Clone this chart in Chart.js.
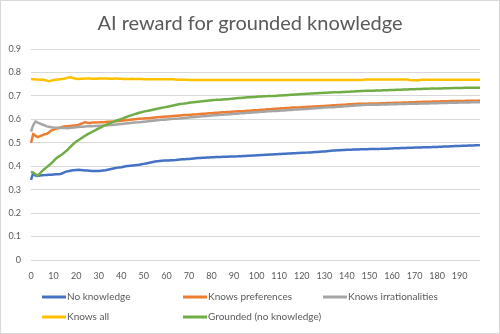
<!DOCTYPE html>
<html>
<head>
<meta charset="utf-8">
<script src="https://cdn.jsdelivr.net/npm/chart.js@4"></script>
<style>
html,body{margin:0;padding:0;background:#fff;}
canvas{display:block;}
</style>
</head>
<body>
<canvas id="c" width="500" height="334"></canvas>
<script>
const titleText = 'AI reward for grounded knowledge';
const categories = Array.from({length: 200}, (_, i) => i);
const seriesNames = ['No knowledge', 'Knows preferences', 'Knows irrationalities', 'Knows all', 'Grounded (no knowledge)'];
const seriesColors = ['#4472C4', '#ED7D31', '#A5A5A5', '#FFC000', '#70AD47'];

const noKnowledge = [
0.342,0.372,0.360,0.358,0.360,0.361,0.362,0.363,0.364,0.364,
0.365,0.366,0.366,0.367,0.370,0.375,0.378,0.380,0.382,0.383,
0.384,0.385,0.384,0.383,0.382,0.382,0.381,0.380,0.380,0.380,
0.380,0.381,0.382,0.383,0.385,0.387,0.389,0.391,0.393,0.395,
0.396,0.398,0.400,0.401,0.402,0.403,0.404,0.405,0.406,0.408,
0.410,0.412,0.414,0.416,0.418,0.420,0.421,0.422,0.423,0.424,
0.424,0.424,0.425,0.425,0.426,0.428,0.429,0.430,0.430,0.431,
0.431,0.432,0.433,0.434,0.435,0.435,0.436,0.436,0.437,0.437,
0.438,0.438,0.439,0.439,0.439,0.440,0.440,0.440,0.441,0.441,
0.442,0.442,0.443,0.443,0.444,0.444,0.445,0.445,0.446,0.446,
0.447,0.447,0.448,0.448,0.449,0.449,0.450,0.450,0.451,0.451,
0.452,0.452,0.453,0.453,0.454,0.454,0.455,0.455,0.456,0.456,
0.457,0.457,0.458,0.459,0.459,0.460,0.461,0.461,0.462,0.463,
0.463,0.464,0.465,0.466,0.467,0.467,0.468,0.468,0.469,0.469,
0.470,0.470,0.470,0.471,0.471,0.471,0.472,0.472,0.472,0.472,
0.473,0.473,0.473,0.473,0.473,0.474,0.474,0.475,0.475,0.476,
0.476,0.477,0.477,0.477,0.478,0.478,0.478,0.479,0.479,0.479,
0.480,0.480,0.480,0.480,0.481,0.481,0.481,0.481,0.482,0.482,
0.482,0.483,0.483,0.484,0.484,0.484,0.485,0.485,0.486,0.486,
0.486,0.487,0.487,0.487,0.488,0.488,0.488,0.489,0.489,0.490
];

const knowsPreferences = [
0.499,0.538,0.530,0.524,0.528,0.532,0.536,0.538,0.545,0.552,
0.556,0.560,0.562,0.565,0.568,0.570,0.570,0.572,0.573,0.574,
0.574,0.576,0.580,0.584,0.588,0.585,0.584,0.586,0.587,0.586,
0.587,0.588,0.588,0.589,0.590,0.590,0.591,0.591,0.592,0.593,
0.594,0.595,0.596,0.597,0.598,0.599,0.600,0.601,0.602,0.603,
0.604,0.605,0.605,0.606,0.607,0.608,0.609,0.610,0.610,0.611,
0.612,0.612,0.613,0.614,0.615,0.615,0.616,0.617,0.618,0.618,
0.619,0.620,0.621,0.621,0.622,0.623,0.624,0.624,0.625,0.626,
0.626,0.627,0.628,0.628,0.629,0.630,0.630,0.631,0.631,0.632,
0.633,0.633,0.634,0.635,0.635,0.636,0.637,0.637,0.638,0.639,
0.639,0.640,0.641,0.641,0.642,0.643,0.643,0.644,0.645,0.645,
0.646,0.647,0.647,0.648,0.648,0.649,0.650,0.650,0.651,0.651,
0.652,0.653,0.653,0.654,0.654,0.655,0.655,0.656,0.656,0.657,
0.657,0.658,0.658,0.659,0.660,0.660,0.661,0.661,0.662,0.662,
0.663,0.664,0.664,0.665,0.665,0.666,0.666,0.667,0.667,0.667,
0.668,0.668,0.668,0.668,0.668,0.669,0.669,0.669,0.670,0.670,
0.670,0.671,0.671,0.671,0.671,0.672,0.672,0.672,0.673,0.673,
0.673,0.674,0.674,0.674,0.675,0.675,0.675,0.675,0.676,0.676,
0.676,0.676,0.677,0.677,0.677,0.677,0.678,0.678,0.678,0.678,
0.678,0.678,0.678,0.679,0.679,0.679,0.679,0.679,0.679,0.680
];

const knowsIrrationalities = [
0.548,0.575,0.591,0.586,0.582,0.578,0.574,0.570,0.568,0.566,
0.565,0.564,0.564,0.563,0.563,0.563,0.562,0.563,0.564,0.565,
0.566,0.567,0.568,0.568,0.569,0.570,0.571,0.571,0.572,0.572,
0.573,0.573,0.574,0.574,0.575,0.576,0.576,0.577,0.578,0.579,
0.580,0.581,0.582,0.583,0.584,0.585,0.586,0.587,0.588,0.589,
0.590,0.591,0.592,0.593,0.594,0.595,0.596,0.597,0.598,0.598,
0.599,0.600,0.601,0.602,0.603,0.603,0.604,0.605,0.606,0.607,
0.608,0.609,0.609,0.610,0.611,0.612,0.613,0.613,0.614,0.615,
0.616,0.617,0.617,0.618,0.619,0.620,0.621,0.621,0.622,0.623,
0.624,0.624,0.625,0.626,0.626,0.627,0.628,0.628,0.629,0.630,
0.630,0.631,0.632,0.632,0.633,0.634,0.634,0.635,0.636,0.636,
0.637,0.638,0.638,0.639,0.640,0.640,0.641,0.642,0.642,0.643,
0.643,0.644,0.644,0.645,0.646,0.646,0.647,0.648,0.648,0.649,
0.650,0.650,0.651,0.652,0.652,0.653,0.654,0.654,0.655,0.656,
0.656,0.657,0.658,0.658,0.659,0.660,0.660,0.661,0.661,0.662,
0.662,0.662,0.662,0.662,0.662,0.663,0.663,0.663,0.663,0.664,
0.664,0.664,0.664,0.665,0.665,0.665,0.665,0.666,0.666,0.666,
0.667,0.667,0.667,0.668,0.668,0.668,0.668,0.669,0.669,0.669,
0.669,0.670,0.670,0.670,0.670,0.671,0.671,0.671,0.671,0.671,
0.672,0.672,0.672,0.672,0.672,0.673,0.673,0.673,0.673,0.673
];

const knowsAll = [
0.772,0.771,0.770,0.770,0.769,0.770,0.768,0.765,0.762,0.765,
0.768,0.769,0.770,0.771,0.772,0.774,0.777,0.779,0.778,0.775,
0.773,0.772,0.773,0.773,0.774,0.774,0.774,0.773,0.773,0.773,
0.774,0.774,0.774,0.774,0.774,0.773,0.773,0.774,0.774,0.773,
0.773,0.772,0.772,0.772,0.772,0.773,0.772,0.772,0.772,0.772,
0.771,0.771,0.771,0.771,0.771,0.771,0.771,0.771,0.771,0.771,
0.771,0.771,0.771,0.771,0.770,0.769,0.769,0.769,0.769,0.769,
0.768,0.768,0.768,0.768,0.768,0.768,0.768,0.768,0.768,0.768,
0.768,0.768,0.768,0.768,0.768,0.768,0.768,0.768,0.768,0.768,
0.768,0.768,0.768,0.768,0.768,0.768,0.768,0.768,0.768,0.768,
0.768,0.768,0.768,0.768,0.768,0.768,0.768,0.768,0.768,0.768,
0.768,0.768,0.768,0.768,0.768,0.768,0.768,0.768,0.768,0.768,
0.768,0.768,0.768,0.768,0.768,0.768,0.768,0.768,0.768,0.768,
0.768,0.768,0.768,0.768,0.768,0.768,0.768,0.768,0.768,0.768,
0.768,0.768,0.768,0.768,0.768,0.768,0.768,0.768,0.770,0.770,
0.770,0.770,0.770,0.770,0.770,0.770,0.770,0.770,0.770,0.770,
0.770,0.770,0.770,0.770,0.770,0.770,0.770,0.770,0.767,0.767,
0.767,0.767,0.767,0.769,0.769,0.769,0.769,0.769,0.769,0.769,
0.769,0.769,0.769,0.769,0.769,0.769,0.769,0.769,0.769,0.769,
0.769,0.769,0.769,0.769,0.769,0.769,0.769,0.769,0.769,0.769
];

const grounded = [
0.377,0.372,0.366,0.360,0.370,0.380,0.388,0.396,0.404,0.412,
0.422,0.432,0.440,0.446,0.452,0.460,0.468,0.478,0.488,0.497,
0.505,0.511,0.517,0.524,0.530,0.536,0.541,0.546,0.551,0.556,
0.561,0.566,0.571,0.575,0.579,0.583,0.587,0.591,0.595,0.598,
0.602,0.605,0.609,0.613,0.616,0.619,0.622,0.625,0.628,0.630,
0.633,0.635,0.637,0.639,0.641,0.643,0.645,0.647,0.649,0.651,
0.653,0.655,0.657,0.659,0.661,0.663,0.665,0.666,0.668,0.669,
0.671,0.672,0.673,0.674,0.675,0.676,0.677,0.678,0.679,0.680,
0.681,0.682,0.683,0.683,0.684,0.685,0.686,0.686,0.687,0.688,
0.689,0.690,0.691,0.691,0.692,0.693,0.694,0.694,0.695,0.695,
0.696,0.697,0.697,0.698,0.698,0.699,0.699,0.700,0.700,0.701,
0.702,0.702,0.703,0.703,0.704,0.705,0.705,0.706,0.706,0.707,
0.708,0.708,0.709,0.709,0.710,0.710,0.711,0.711,0.712,0.712,
0.713,0.713,0.714,0.714,0.715,0.715,0.716,0.716,0.717,0.717,
0.718,0.718,0.719,0.719,0.720,0.720,0.721,0.721,0.722,0.722,
0.722,0.722,0.722,0.723,0.723,0.723,0.724,0.724,0.724,0.725,
0.725,0.725,0.726,0.726,0.726,0.727,0.727,0.727,0.728,0.728,
0.728,0.729,0.729,0.729,0.730,0.730,0.730,0.731,0.731,0.731,
0.732,0.732,0.732,0.733,0.733,0.733,0.733,0.734,0.734,0.734,
0.734,0.734,0.735,0.735,0.735,0.735,0.735,0.735,0.735,0.735
];

const seriesValues = [noKnowledge, knowsPreferences, knowsIrrationalities, knowsAll, grounded];

const FONT = 'Lato, "Open Sans", sans-serif';
const TEXT = '#595959';

const decorPlugin = {
  id: 'decor',
  afterDraw(chart) {
    const ctx = chart.ctx;
    ctx.save();
    // title
    ctx.font = '20px ' + FONT;
    ctx.fillStyle = TEXT;
    ctx.textAlign = 'center';
    ctx.textBaseline = 'alphabetic';
    ctx.fillText(titleText, 250, 30);
    // legend
    const colX = [42, 183, 323];
    const rowY = [297, 317];
    ctx.font = '10px ' + FONT;
    ctx.textBaseline = 'middle';
    ctx.textAlign = 'left';
    seriesNames.forEach((name, i) => {
      const x = colX[i % 3];
      const y = rowY[Math.floor(i / 3)];
      ctx.strokeStyle = seriesColors[i];
      ctx.lineWidth = 3;
      ctx.beginPath();
      ctx.moveTo(x, y);
      ctx.lineTo(x + 24, y);
      ctx.stroke();
      ctx.fillStyle = TEXT;
      ctx.fillText(name, x + 25, y);
    });
    // chart border
    ctx.strokeStyle = '#d9d9d9';
    ctx.lineWidth = 1;
    ctx.strokeRect(0.5, 0.5, 499, 333);
    ctx.restore();
  }
};

new Chart(document.getElementById('c'), {
  type: 'line',
  data: {
    labels: categories,
    datasets: seriesNames.map((name, i) => ({
      label: name,
      data: seriesValues[i],
      borderColor: seriesColors[i],
      backgroundColor: seriesColors[i],
      borderWidth: 2.5,
      pointRadius: 0,
      tension: 0,
      borderJoinStyle: 'round',
      order: seriesNames.length - i
    }))
  },
  options: {
    responsive: false,
    animation: false,
    devicePixelRatio: 1,
    layout: { padding: { left: 0, right: 20, top: 49, bottom: 54 } },
    plugins: {
      legend: { display: false },
      tooltip: { enabled: false },
      title: { display: false }
    },
    scales: {
      x: {
        type: 'category',
        offset: false,
        grid: { display: false, drawTicks: false },
        border: { display: false },
        afterFit(scale) { scale.height = 20; },
        ticks: {
          autoSkip: false,
          maxRotation: 0,
          minRotation: 0,
          padding: 11,
          color: TEXT,
          font: { family: FONT, size: 9 },
          callback(val, idx) { return idx % 10 === 0 ? String(categories[idx]) : ''; }
        }
      },
      y: {
        min: 0,
        max: 0.9,
        grid: { color: '#d9d9d9', lineWidth: 1, drawTicks: false },
        border: { display: false },
        afterFit(scale) { scale.width = 31; },
        ticks: {
          stepSize: 0.1,
          padding: 10,
          color: TEXT,
          font: { family: FONT, size: 9 },
          callback(v) { return v === 0 ? '0' : v.toFixed(1); }
        }
      }
    }
  },
  plugins: [decorPlugin]
});
</script>
</body>
</html>
